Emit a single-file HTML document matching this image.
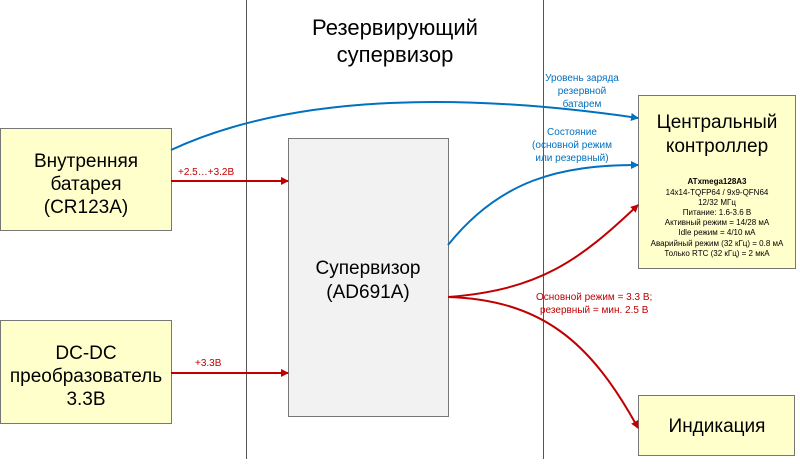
<!DOCTYPE html>
<html><head><meta charset="utf-8"><style>
body{margin:0;width:800px;height:459px;background:#fff;overflow:hidden;font-family:"Liberation Sans",sans-serif}
</style></head><body>
<svg width="800" height="459" xmlns="http://www.w3.org/2000/svg" font-family="Liberation Sans, sans-serif">
<defs>
<marker id="r" markerWidth="8" markerHeight="8" refX="7" refY="4" orient="auto" markerUnits="userSpaceOnUse"><path d="M0,0 L8,4 L0,8z" fill="#c00000"/></marker>
<marker id="b" markerWidth="8" markerHeight="8" refX="7" refY="4" orient="auto" markerUnits="userSpaceOnUse"><path d="M0,0 L8,4 L0,8z" fill="#0070c0"/></marker>
</defs>
<rect x="246.5" y="-1" width="297" height="462" fill="#fff" stroke="#555"/>
<text x="395" y="35" font-size="22" text-anchor="middle">Резервирующий</text>
<text x="395" y="62" font-size="22" text-anchor="middle">супервизор</text>
<rect x="288.5" y="138.5" width="160" height="278" fill="#f2f2f2" stroke="#777"/>
<text x="368" y="274" font-size="19" text-anchor="middle">Супервизор</text>
<text x="368" y="298" font-size="19" text-anchor="middle">(AD691A)</text>
<rect x="0.5" y="128.5" width="171" height="102" fill="#ffffcc" stroke="#777"/>
<text x="86" y="167" font-size="19" text-anchor="middle">Внутренняя</text>
<text x="86" y="190" font-size="19" text-anchor="middle">батарея</text>
<text x="86" y="213" font-size="19" text-anchor="middle">(CR123A)</text>
<rect x="0.5" y="320.5" width="171" height="103" fill="#ffffcc" stroke="#777"/>
<text x="86" y="359" font-size="19" text-anchor="middle">DC-DC</text>
<text x="86" y="382" font-size="19" text-anchor="middle">преобразователь</text>
<text x="86" y="405" font-size="19" text-anchor="middle">3.3В</text>
<rect x="638.5" y="95.5" width="157" height="173" fill="#ffffcc" stroke="#777"/>
<text x="717" y="128" font-size="19" text-anchor="middle">Центральный</text>
<text x="717" y="152" font-size="19" text-anchor="middle">контроллер</text>
<g font-size="8" text-anchor="middle">
<text x="717" y="184" font-weight="bold">ATxmega128A3</text>
<text x="717" y="195">14x14-TQFP64 / 9x9-QFN64</text>
<text x="717" y="205">12/32 МГц</text>
<text x="717" y="215">Питание: 1.6-3.6 В</text>
<text x="717" y="225">Активный режим = 14/28 мА</text>
<text x="717" y="235">Idle режим = 4/10 мА</text>
<text x="717" y="246">Аварийный режим (32 кГц) = 0.8 мА</text>
<text x="717" y="256">Только RTC (32 кГц) = 2 мкА</text>
</g>
<rect x="638.5" y="395.5" width="156" height="60" fill="#ffffcc" stroke="#777"/>
<text x="717" y="432" font-size="19" text-anchor="middle">Индикация</text>
<g fill="none" stroke-width="2">
<path d="M171,150 C300,90 480,95 638,118" stroke="#0070c0" marker-end="url(#b)"/>
<path d="M448,245 C500,180 560,165 638,165" stroke="#0070c0" marker-end="url(#b)"/>
<path d="M171,181 L288,181" stroke="#c00000" marker-end="url(#r)"/>
<path d="M171,373 L288,373" stroke="#c00000" marker-end="url(#r)"/>
<path d="M448,297 C540,290 580,260 638,205" stroke="#c00000" marker-end="url(#r)"/>
<path d="M448,297 C540,300 590,340 638,428" stroke="#c00000" marker-end="url(#r)"/>
</g>
<g font-size="10" fill="#0070c0" text-anchor="middle">
<text x="582" y="81">Уровень заряда</text>
<text x="582" y="94">резервной</text>
<text x="582" y="107">батарем</text>
<text x="572" y="135">Состояние</text>
<text x="572" y="148">(основной режим</text>
<text x="572" y="161">или резервный)</text>
</g>
<g font-size="10" fill="#c00000">
<text x="178" y="175">+2.5…+3.2В</text>
<text x="195" y="366">+3.3В</text>
<text x="536" y="300">Основной режим = 3.3 В;</text>
<text x="540" y="313">резервный = мин. 2.5 В</text>
</g>
</svg>
</body></html>
